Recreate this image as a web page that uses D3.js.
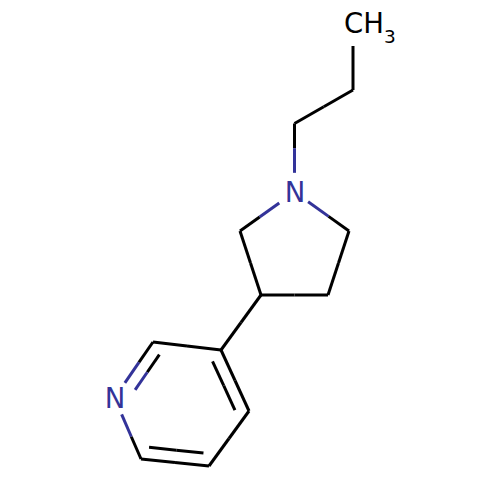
<!DOCTYPE html>
<html>
<head>
<meta charset="utf-8">
<script src="https://cdn.jsdelivr.net/npm/d3@7"></script>
<style>
html, body { margin: 0; padding: 0; background: #fff; }
svg { display: block; }
text { font-family: "DejaVu Sans", sans-serif; }
</style>
</head>
<body>
<svg id="graph" width="500" height="500"></svg>
<script>
// atoms of the molecule, in drawing units (0-50)
const atomNames = ['CH3', 'C', 'C', 'N', 'C', 'C', 'C', 'C', 'C', 'C', 'N', 'C', 'C', 'C']
const atomX = [35.3, 35.3, 29.45, 29.45, 24.0, 34.9, 32.8, 26.1, 22.1, 15.3, 11.45, 14.1, 20.9, 24.9]
const atomY = [4.0, 9.0, 12.35, 19.2, 23.1, 23.1, 29.5, 29.5, 35.0, 34.2, 39.8, 45.9, 46.6, 41.1]

// bonds: from atom, to atom, order
const bondFrom = [0, 1, 2, 3, 3, 4, 5, 6, 7, 8, 9, 10, 11, 12, 13]
const bondTo = [1, 2, 3, 4, 5, 7, 6, 7, 8, 9, 10, 11, 12, 13, 8]
const bondOrder = [1, 1, 1, 1, 1, 1, 1, 1, 1, 1, 2, 1, 2, 1, 2]
// part of the bond hidden behind the label at each end
const trimFrom = [0.12, 0, 0, 0.28, 0.25, 0, 0, 0, 0, 0, 0, 0.27, 0, 0, 0]
const trimTo = [0, 0, 0.28, 0, 0, 0, 0, 0, 0, 0, 0.27, 0, 0, 0, 0]

const x = d3.scaleLinear().domain([0, 50]).range([0, 500])
const y = d3.scaleLinear().domain([0, 50]).range([0, 500])

const black = '#000000'
const blue = '#333399'
const innerGap = 12.4
const innerTrim = 0.1

var svg = d3.select('#graph')

const colorOf = i => atomNames[i] === 'N' ? blue : black

// center of the ring the double bond belongs to
const ringAtoms = [8, 9, 10, 11, 12, 13]
const ringX = d3.mean(ringAtoms, i => x(atomX[i]))
const ringY = d3.mean(ringAtoms, i => y(atomY[i]))

// a line between t0 and t1 of a bond, split in two colours at the middle
const segments = (a, b, t0, t1, off) => {
    const ax = x(atomX[a]), ay = y(atomY[a])
    const bx = x(atomX[b]), by = y(atomY[b])
    const px = (dx, t) => ax + (bx - ax) * t + dx[0]
    const py = (dx, t) => ay + (by - ay) * t + dx[1]
    const mid = (t0 + t1) / 2
    return [
        {x1: px(off, t0), y1: py(off, t0), x2: px(off, mid), y2: py(off, mid), c: colorOf(a)},
        {x1: px(off, mid), y1: py(off, mid), x2: px(off, t1), y2: py(off, t1), c: colorOf(b)}
    ]
}

const lines = []
bondFrom.forEach((a, i) => {
    const b = bondTo[i]
    const t0 = trimFrom[i], t1 = 1 - trimTo[i]
    lines.push(...segments(a, b, t0, t1, [0, 0]))
    if (bondOrder[i] === 2) {
        const ax = x(atomX[a]), ay = y(atomY[a])
        const bx = x(atomX[b]), by = y(atomY[b])
        const len = Math.hypot(bx - ax, by - ay)
        let nx = -(by - ay) / len, ny = (bx - ax) / len
        // push the second line to the inside of the ring
        if ((ringX - ax) * nx + (ringY - ay) * ny < 0) { nx = -nx; ny = -ny }
        lines.push(...segments(a, b, Math.max(t0, innerTrim), Math.min(t1, 1 - innerTrim), [nx * innerGap, ny * innerGap]))
    }
})

svg.selectAll('.bond').data(lines).enter().append('line')
    .attr('class', 'bond')
    .attr('x1', d => d.x1)
    .attr('y1', d => d.y1)
    .attr('x2', d => d.x2)
    .attr('y2', d => d.y2)
    .attr('stroke', d => d.c)
    .attr('stroke-width', 3)
    .attr('stroke-linecap', 'butt')

// N labels
const nAtoms = atomNames.map((n, i) => i).filter(i => atomNames[i] === 'N')
svg.selectAll('.atom').data(nAtoms).enter().append('text')
    .attr('class', 'atom')
    .attr('x', i => x(atomX[i]) + 0.5)
    .attr('y', i => y(atomY[i]))
    .attr('dy', 10)
    .attr('text-anchor', 'middle')
    .attr('font-size', 27.5)
    .attr('fill', blue)
    .text('N')

// methyl label with its subscript
const methyl = svg.append('text')
    .attr('x', x(atomX[0]) - 9)
    .attr('y', y(atomY[0]) - 7)
    .attr('font-size', 27.5)
    .attr('fill', black)
methyl.append('tspan').text('CH')
methyl.append('tspan').attr('font-size', 18.5).attr('dy', 10).text('3')
</script>
</body>
</html>
